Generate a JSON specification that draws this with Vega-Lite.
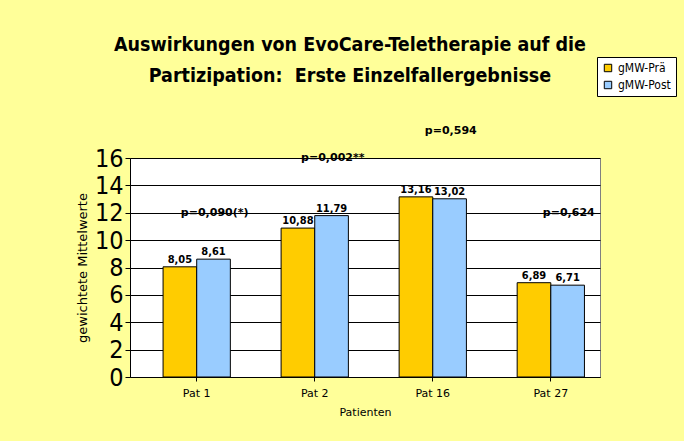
{
  "$schema": "https://vega.github.io/schema/vega-lite/v6.json",
  "autosize": "none",
  "width": 470,
  "height": 219,
  "padding": {"left": 130, "top": 158, "right": 84, "bottom": 64},
  "background": "#FFFF99",
  "title": {
    "text": ["Auswirkungen von EvoCare-Teletherapie auf die", "Partizipation:\u00a0 Erste Einzelfallergebnisse"],
    "font": "DejaVu Sans Condensed",
    "fontSize": 19.5,
    "fontWeight": "bold",
    "lineHeight": 31,
    "color": "#000000",
    "anchor": "middle",
    "frame": "group",
    "dx": -15,
    "offset": -30
  },
  "config": {
    "locale": {"number": {"decimal": ",", "thousands": ".", "grouping": [3], "currency": ["", " €"]}},
    "view": {"stroke": "#808080", "fill": "#FFFFFF"},
    "axis": {"labelColor": "#000000", "titleColor": "#000000"}
  },
  "datasets": {
    "bars": [
      {"Patient": "Pat 1", "Messung": "gMW-Prä", "Wert": 8.05},
      {"Patient": "Pat 1", "Messung": "gMW-Post", "Wert": 8.61},
      {"Patient": "Pat 2", "Messung": "gMW-Prä", "Wert": 10.88},
      {"Patient": "Pat 2", "Messung": "gMW-Post", "Wert": 11.79},
      {"Patient": "Pat 16", "Messung": "gMW-Prä", "Wert": 13.16},
      {"Patient": "Pat 16", "Messung": "gMW-Post", "Wert": 13.02},
      {"Patient": "Pat 27", "Messung": "gMW-Prä", "Wert": 6.89},
      {"Patient": "Pat 27", "Messung": "gMW-Post", "Wert": 6.71}
    ],
    "pvalues": [
      {"Patient": "Pat 1", "p": "p=0,090(*)", "Wert": 12.0},
      {"Patient": "Pat 2", "p": "p=0,002**", "Wert": 16.0},
      {"Patient": "Pat 16", "p": "p=0,594", "Wert": 18.0},
      {"Patient": "Pat 27", "p": "p=0,624", "Wert": 12.0}
    ]
  },
  "encoding": {
    "x": {
      "field": "Patient", "type": "nominal", "sort": ["Pat 1", "Pat 2", "Pat 16", "Pat 27"],
      "scale": {"paddingInner": 0.43, "paddingOuter": 0.206, "align": 0.68},
      "axis": {
        "title": "Patienten", "labelAngle": 0, "labelFont": "DejaVu Sans", "labelFontSize": 11,
        "titleFont": "DejaVu Sans", "titleFontSize": 11, "titleFontWeight": "normal",
        "labelPadding": 6, "titlePadding": 8, "tickColor": "#000000", "domainColor": "#000000", "tickSize": 4
      }
    },
    "y": {
      "field": "Wert", "type": "quantitative",
      "scale": {"domain": [0, 16], "nice": false},
      "axis": {
        "title": "gewichtete Mittelwerte", "values": [0, 2, 4, 6, 8, 10, 12, 14, 16],
        "labelOverlap": false,
        "labelFont": "DejaVu Sans Condensed", "labelFontSize": 25, "labelPadding": 2,
        "titleFont": "DejaVu Sans", "titleFontSize": 13, "titleFontWeight": "normal", "titlePadding": 5,
        "gridColor": "#000000", "gridOpacity": 1, "gridWidth": 1,
        "domainColor": "#000000", "tickColor": "#000000", "tickSize": 5
      }
    }
  },
  "layer": [
    {
      "data": {"name": "bars"},
      "mark": {"type": "bar", "stroke": "#000000", "strokeWidth": 1},
      "encoding": {
        "xOffset": {"field": "Messung", "type": "nominal", "sort": ["gMW-Prä", "gMW-Post"]},
        "color": {
          "field": "Messung", "type": "nominal", "sort": ["gMW-Prä", "gMW-Post"],
          "scale": {"domain": ["gMW-Prä", "gMW-Post"], "range": ["#FFCC00", "#99CCFF"]},
          "legend": {
            "title": null, "orient": "none", "legendX": 467, "legendY": -101,
            "fillColor": "#FFFFFF", "strokeColor": "#000000", "padding": 5,
            "symbolType": "square", "symbolSize": 55, "symbolStrokeColor": "#000000", "symbolStrokeWidth": 1,
            "labelFont": "DejaVu Sans Condensed", "labelFontSize": 12, "labelColor": "#000000", "rowPadding": 5
          }
        }
      }
    },
    {
      "data": {"name": "bars"},
      "mark": {"type": "text", "dy": -7, "font": "DejaVu Sans Condensed", "fontSize": 11, "fontWeight": "bold", "color": "#000000"},
      "encoding": {
        "xOffset": {"field": "Messung", "type": "nominal", "sort": ["gMW-Prä", "gMW-Post"]},
        "text": {"field": "Wert", "type": "quantitative", "format": ".2f"}
      }
    },
    {
      "data": {"name": "pvalues"},
      "mark": {"type": "text", "dx": 18, "font": "DejaVu Sans", "fontSize": 11, "fontWeight": "bold", "color": "#000000"},
      "encoding": {
        "text": {"field": "p", "type": "nominal"}
      }
    }
  ]
}
